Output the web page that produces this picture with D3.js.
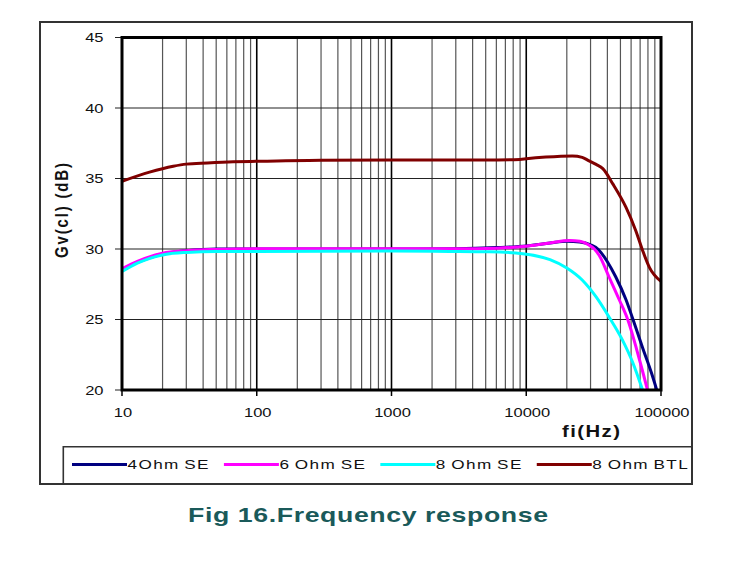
<!DOCTYPE html>
<html>
<head>
<meta charset="utf-8">
<script src="https://cdn.jsdelivr.net/npm/d3@7"></script>
<style>
  body { margin: 0; background: #fff; }
  text { font-family: "Liberation Sans", Arial, sans-serif; }
</style>
</head>
<body>
<div id="vis"></div>
<script>
"use strict";
// gain curves (Hz / dB)
var freq4 = [10, 13, 20, 30, 50, 100, 1000, 3000, 6000, 10000, 15000, 20000, 25000, 30000, 34000, 40000, 46000, 55000, 62000, 73000, 85000, 93000];
var gain4 = [28.5, 29.05, 29.65, 29.88, 30.0, 30.0, 30.0, 30.02, 30.1, 30.22, 30.42, 30.55, 30.5, 30.3, 30.0, 29.1, 28.05, 26.4, 25.0, 23.0, 21.2, 20.0];
var freq6 = [10, 13, 20, 30, 50, 100, 1000, 3000, 6000, 10000, 15000, 21000, 25000, 29000, 32000, 35000, 41000, 49000, 56600, 69000, 79400];
var gain6 = [28.6, 29.12, 29.7, 29.88, 29.97, 30.02, 30.02, 30.02, 30.06, 30.2, 30.43, 30.6, 30.55, 30.3, 30.0, 29.5, 28.05, 26.4, 25.0, 22.2, 20.0];
var freq8 = [10, 13, 20, 30, 50, 100, 1000, 2700, 5300, 9400, 15000, 20000, 26000, 33000, 41000, 52000, 62000, 73000];
var gain8 = [28.4, 29.0, 29.58, 29.76, 29.83, 29.83, 29.85, 29.83, 29.8, 29.67, 29.24, 28.65, 27.8, 26.6, 25.2, 23.5, 21.9, 20.0];
var freqBtl = [10, 16, 24, 30, 43, 67, 100, 300, 1000, 5000, 9000, 10000, 14000, 22000, 26000, 29000, 33000, 37000, 44000, 55000, 65000, 73000, 82000, 100000];
var gainBtl = [34.8, 35.45, 35.87, 36.02, 36.1, 36.18, 36.22, 36.3, 36.32, 36.32, 36.35, 36.4, 36.52, 36.6, 36.5, 36.27, 36.0, 35.7, 34.6, 32.95, 31.3, 29.9, 28.7, 27.7];

var seriesNames = ['4Ohm SE', '6 Ohm SE', '8 Ohm SE', '8 Ohm BTL'];
var seriesColors = ['#000080', '#ff00ff', '#00ffff', '#800000'];
var xTickLabels = ['10', '100', '1000', '10000', '100000'];
var yDomain = [20, 45];
var xDomain = [10, 100000];

var width = 743, height = 576;
var plot = { left: 122, right: 661, top: 37.5, bottom: 390 };
var sx = 1.27; // the source picture is stretched sideways, so is its lettering

var svg = d3.select('#vis')
    .append('svg')
    .attr('width', width)
    .attr('height', height);

var x = d3.scaleLog().domain(xDomain).range([plot.left, plot.right]);
var y = d3.scaleLinear().domain(yDomain).range([plot.bottom, plot.top]);

function at(px, py) { return 'translate(' + px + ',' + py + ') scale(' + sx + ',1)'; }

// outer chart frame
svg.append('rect')
    .attr('x', 40).attr('y', 22)
    .attr('width', 652).attr('height', 462)
    .attr('fill', '#fff')
    .attr('stroke', '#333')
    .attr('stroke-width', 2);

// vertical grid
var gridTicks = x.ticks().filter(function (t) { return t > xDomain[0] && t < xDomain[1]; });
svg.selectAll('.vgrid')
    .data(gridTicks)
    .enter().append('line')
    .classed('vgrid', true)
    .attr('x1', function (d) { return x(d); })
    .attr('x2', function (d) { return x(d); })
    .attr('y1', plot.top)
    .attr('y2', plot.bottom)
    .attr('stroke', function (d) { return Math.log10(d) % 1 === 0 ? '#000' : '#555'; })
    .attr('stroke-width', function (d) { return Math.log10(d) % 1 === 0 ? 1.6 : 1.2; });

// horizontal grid
svg.selectAll('.hgrid')
    .data(y.ticks(5))
    .enter().append('line')
    .classed('hgrid', true)
    .attr('x1', plot.left - 7)
    .attr('x2', plot.right)
    .attr('y1', function (d) { return y(d); })
    .attr('y2', function (d) { return y(d); })
    .attr('stroke', '#222')
    .attr('stroke-width', 1.2);

// curves
var series = [
    { name: seriesNames[0], color: seriesColors[0], f: freq4, g: gain4 },
    { name: seriesNames[1], color: seriesColors[1], f: freq6, g: gain6 },
    { name: seriesNames[2], color: seriesColors[2], f: freq8, g: gain8 },
    { name: seriesNames[3], color: seriesColors[3], f: freqBtl, g: gainBtl }
];

svg.append('clipPath').attr('id', 'clip')
    .append('rect')
    .attr('x', plot.left).attr('y', plot.top)
    .attr('width', plot.right - plot.left)
    .attr('height', plot.bottom - plot.top);

var line = d3.line()
    .x(function (p) { return x(p[0]); })
    .y(function (p) { return y(p[1]); })
    .curve(d3.curveMonotoneX);

svg.selectAll('.curve')
    .data(series)
    .enter().append('path')
    .classed('curve', true)
    .attr('clip-path', 'url(#clip)')
    .attr('d', function (s) { return line(d3.zip(s.f, s.g)); })
    .attr('fill', 'none')
    .attr('stroke', function (s) { return s.color; })
    .attr('stroke-width', 3)
    .attr('stroke-linejoin', 'round');

// plot border
svg.append('rect')
    .attr('x', plot.left).attr('y', plot.top)
    .attr('width', plot.right - plot.left)
    .attr('height', plot.bottom - plot.top)
    .attr('fill', 'none')
    .attr('stroke', '#000')
    .attr('stroke-width', 3);

// x ticks + labels
var decades = xTickLabels.map(Number);
svg.selectAll('.xtick')
    .data(decades)
    .enter().append('line')
    .classed('xtick', true)
    .attr('x1', function (d) { return x(d); })
    .attr('x2', function (d) { return x(d); })
    .attr('y1', plot.bottom)
    .attr('y2', plot.bottom + 6)
    .attr('stroke', '#000')
    .attr('stroke-width', 1.5);
svg.selectAll('.xlabel')
    .data(xTickLabels)
    .enter().append('text')
    .classed('xlabel', true)
    .attr('transform', function (d) { return at(x(+d) + 1, 417); })
    .attr('text-anchor', 'middle')
    .style('font-size', '13px')
    .attr('fill', '#111')
    .text(function (d) { return d; });

// y labels
svg.selectAll('.ylabel')
    .data(y.ticks(5))
    .enter().append('text')
    .classed('ylabel', true)
    .attr('transform', function (d) { return at(103.5, y(d)); })
    .attr('dy', '0.36em')
    .attr('text-anchor', 'end')
    .style('font-size', '13px')
    .attr('fill', '#111')
    .text(function (d) { return d; });

// axis titles
svg.append('text')
    .attr('transform', at(562, 437))
    .attr('textLength', 58 / sx)
    .attr('lengthAdjust', 'spacing')
    .style('font-size', '16px')
    .style('font-weight', 'bold')
    .attr('fill', '#111')
    .text('fi(Hz)');
svg.append('text')
    .attr('transform', 'translate(68,210.5) rotate(-90) scale(1,1.2)')
    .attr('text-anchor', 'middle')
    .attr('textLength', 95)
    .attr('lengthAdjust', 'spacing')
    .style('font-size', '15px')
    .style('font-weight', 'bold')
    .attr('fill', '#111')
    .text('Gv(cl) (dB)');

// legend box
var lg = svg.append('g');
lg.append('path')
    .attr('d', 'M63.3,484 V446.7 H692')
    .attr('fill', 'none')
    .attr('stroke', '#333')
    .attr('stroke-width', 1.6);

var lx = 72, ly = 464.5;
series.forEach(function (s) {
    lg.append('line')
        .attr('x1', lx).attr('x2', lx + 55)
        .attr('y1', ly).attr('y2', ly)
        .attr('stroke', s.color)
        .attr('stroke-width', 3);
    var t = lg.append('text')
        .attr('transform', at(lx + 55.5, ly + 4.9))
        .style('font-size', '13.5px')
        .style('letter-spacing', '1.1px')
        .style('word-spacing', '-1.3px')
        .attr('fill', '#111')
        .text(s.name);
    lx = lx + 55.5 + t.node().getComputedTextLength() * sx + 14;
});

// caption
svg.append('text')
    .attr('transform', at(368, 522))
    .attr('text-anchor', 'middle')
    .attr('textLength', 360 / sx)
    .attr('lengthAdjust', 'spacing')
    .style('font-size', '21px')
    .style('font-weight', 'bold')
    .attr('fill', '#1a5a5a')
    .text('Fig 16.Frequency response');
</script>
</body>
</html>
